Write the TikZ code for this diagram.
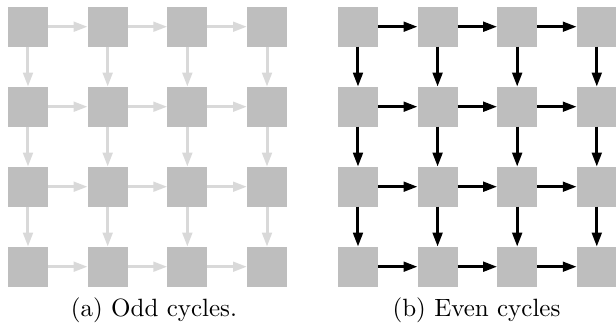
\documentclass[tikz,border=0pt]{standalone}
\usetikzlibrary{arrows.meta}
\definecolor{boxgray}{HTML}{BEBEBE}
\definecolor{arrgray}{HTML}{D9D9D9}
\tikzset{
  cell/.style={fill=boxgray, draw=none, minimum size=16pt, inner sep=0pt, outer sep=0pt},
  lightarrow/.style={draw=arrgray, line width=1.2pt, -{Triangle[length=5.6pt,width=3.8pt]}},
  darkarrow/.style={draw=black, line width=1.2pt, -{Triangle[length=5.6pt,width=3.8pt]}},
  caption/.style={anchor=base, inner sep=0pt, font=\normalsize}
}
\begin{document}
\begin{tikzpicture}[x=0.4pt, y=-0.4pt]
\clip (0,0) rectangle (616,322);
\useasboundingbox (0,0) rectangle (616,322);
% left grid
\foreach \i in {1,...,4}{
  \foreach \j in {1,...,4}{
    \node[cell] (L-\i-\j) at ({28+79.67*(\j-1)}, {26.7+80*(\i-1)}) {};
    \node[cell] (R-\i-\j) at ({358+79.6*(\j-1)}, {26.7+80*(\i-1)}) {};
  }
}
\foreach \i in {1,...,4}{
  \foreach \j/\k in {1/2,2/3,3/4}{
    \draw[lightarrow] (L-\i-\j.east) -- (L-\i-\k.west);
    \draw[lightarrow] (L-\j-\i.south) -- (L-\k-\i.north);
    \draw[darkarrow] (R-\i-\j.east) -- (R-\i-\k.west);
    \draw[darkarrow] (R-\j-\i.south) -- (R-\k-\i.north);
  }
}
\node[caption] (capa) at (154,316) {(a) Odd cycles.};
\node[caption] (capb) at (476.5,316) {(b) Even cycles};
\end{tikzpicture}
\end{document}
